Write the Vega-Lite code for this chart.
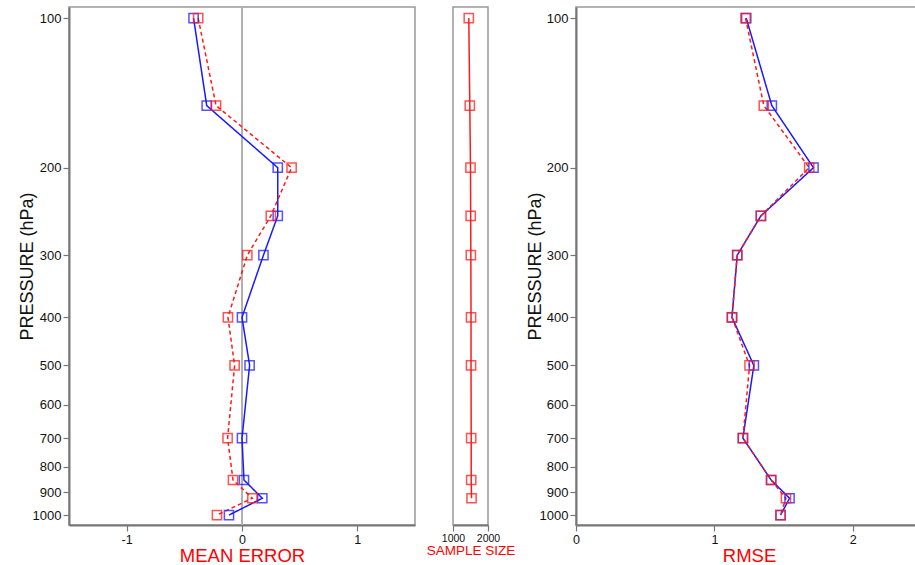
{
  "$schema": "https://vega.github.io/schema/vega-lite/v6.json",
  "background": "white",
  "padding": {"left": 17, "top": 5, "right": 0, "bottom": 0},
  "spacing": 9,
  "datasets": {
    "stats": [
      {"p": 100, "run": "blue", "me": -0.42, "rmse": 1.23},
      {"p": 150, "run": "blue", "me": -0.306, "rmse": 1.415},
      {"p": 200, "run": "blue", "me": 0.31, "rmse": 1.716},
      {"p": 250, "run": "blue", "me": 0.31, "rmse": 1.336},
      {"p": 300, "run": "blue", "me": 0.186, "rmse": 1.165},
      {"p": 400, "run": "blue", "me": 0.0, "rmse": 1.127},
      {"p": 500, "run": "blue", "me": 0.066, "rmse": 1.285},
      {"p": 700, "run": "blue", "me": 0.0, "rmse": 1.206},
      {"p": 850, "run": "blue", "me": 0.017, "rmse": 1.41},
      {"p": 925, "run": "blue", "me": 0.176, "rmse": 1.543},
      {"p": 1000, "run": "blue", "me": -0.113, "rmse": 1.478},
      {"p": 100, "run": "red", "me": -0.38, "rmse": 1.225},
      {"p": 150, "run": "red", "me": -0.225, "rmse": 1.357},
      {"p": 200, "run": "red", "me": 0.43, "rmse": 1.685},
      {"p": 250, "run": "red", "me": 0.25, "rmse": 1.336},
      {"p": 300, "run": "red", "me": 0.046, "rmse": 1.165},
      {"p": 400, "run": "red", "me": -0.122, "rmse": 1.127},
      {"p": 500, "run": "red", "me": -0.064, "rmse": 1.254},
      {"p": 700, "run": "red", "me": -0.125, "rmse": 1.206},
      {"p": 850, "run": "red", "me": -0.078, "rmse": 1.41},
      {"p": 925, "run": "red", "me": 0.09, "rmse": 1.517},
      {"p": 1000, "run": "red", "me": -0.217, "rmse": 1.478}
    ],
    "samples": [
      {"p": 100, "n": 1451},
      {"p": 150, "n": 1480},
      {"p": 200, "n": 1500},
      {"p": 250, "n": 1505},
      {"p": 300, "n": 1510},
      {"p": 400, "n": 1515},
      {"p": 500, "n": 1515},
      {"p": 700, "n": 1520},
      {"p": 850, "n": 1520},
      {"p": 925, "n": 1530}
    ],
    "zero": [{"x": 0}]
  },
  "config": {
    "font": "Liberation Sans",
    "view": {"stroke": "#999999", "strokeWidth": 1.5},
    "axis": {
      "labelFont": "Liberation Sans",
      "labelFontSize": 13,
      "labelColor": "#111111",
      "labelFlush": false,
      "labelOverlap": false,
      "labelPadding": 2,
      "tickColor": "#777777",
      "tickSize": 6,
      "tickWidth": 1.2,
      "domainColor": "#777777",
      "domainWidth": 2,
      "grid": false,
      "titleFont": "Liberation Sans",
      "titleFontWeight": "normal",
      "titleFontSize": 18
    }
  },
  "hconcat": [
    {
      "width": 346,
      "height": 518,
      "layer": [
        {
          "data": {"name": "zero"},
          "mark": {"type": "rule", "color": "#b0b0b0", "strokeWidth": 2},
          "encoding": {
            "x": {"field": "x", "type": "quantitative", "scale": {"domain": [-1.5, 1.5], "nice": false, "zero": false}}
          }
        },
        {
          "data": {"name": "stats"},
          "mark": {"type": "line", "strokeWidth": 1.5},
          "encoding": {
            "x": {"field": "me", "type": "quantitative", "scale": {"domain": [-1.5, 1.5], "nice": false, "zero": false},
                  "axis": {"values": [-1, 0, 1], "labelExpr": "'' + datum.value", "labelFontSize": 12.5, "title": "MEAN ERROR", "titleColor": "#ff0000", "titleFontSize": 18.5, "titlePadding": 1}},
            "y": {"field": "p", "type": "quantitative", "scale": {"type": "log", "domain": [95, 1047], "reverse": true, "nice": false},
                  "axis": {"values": [100, 200, 300, 400, 500, 600, 700, 800, 900, 1000], "format": "d", "title": "PRESSURE (hPa)", "titlePadding": -4, "titleColor": "#111111"}},
            "color": {"field": "run", "type": "nominal", "scale": {"domain": ["blue", "red"], "range": ["#1a1aff", "#ff1a1a"]}, "legend": null},
            "strokeDash": {"field": "run", "type": "nominal", "scale": {"domain": ["blue", "red"], "range": [[1, 0], [4, 3]]}, "legend": null},
            "order": {"field": "p", "type": "quantitative"}
          }
        },
        {
          "data": {"name": "stats"},
          "mark": {"type": "point", "shape": "square", "filled": false, "size": 85, "strokeWidth": 1.5, "opacity": 0.75},
          "encoding": {
            "x": {"field": "me", "type": "quantitative"},
            "y": {"field": "p", "type": "quantitative"},
            "color": {"field": "run", "type": "nominal", "legend": null}
          }
        }
      ]
    },
    {
      "width": 35,
      "height": 518,
      "data": {"name": "samples"},
      "layer": [
        {
          "mark": {"type": "line", "strokeWidth": 1.5, "color": "#ff1a1a"},
          "encoding": {
            "x": {"field": "n", "type": "quantitative", "scale": {"domain": [1000, 2000], "nice": false, "zero": false},
                  "axis": {"values": [1000, 2000], "labelExpr": "'' + datum.value", "labelFontSize": 10.5, "title": "SAMPLE SIZE", "titleColor": "#ff0000", "titleFontSize": 13.5, "titlePadding": 0}},
            "y": {"field": "p", "type": "quantitative", "scale": {"type": "log", "domain": [95, 1047], "reverse": true, "nice": false}, "axis": null},
            "order": {"field": "p", "type": "quantitative"}
          }
        },
        {
          "mark": {"type": "point", "shape": "square", "filled": false, "size": 85, "strokeWidth": 1.5, "opacity": 0.75, "color": "#ff1a1a"},
          "encoding": {
            "x": {"field": "n", "type": "quantitative"},
            "y": {"field": "p", "type": "quantitative"}
          }
        }
      ]
    },
    {
      "width": 346,
      "height": 518,
      "data": {"name": "stats"},
      "layer": [
        {
          "mark": {"type": "line", "strokeWidth": 1.5},
          "encoding": {
            "x": {"field": "rmse", "type": "quantitative", "scale": {"domain": [0, 2.5], "nice": false},
                  "axis": {"values": [0, 1, 2], "labelExpr": "'' + datum.value", "labelFontSize": 12.5, "title": "RMSE", "titleColor": "#ff0000", "titleFontSize": 18.5, "titlePadding": 1}},
            "y": {"field": "p", "type": "quantitative", "scale": {"type": "log", "domain": [95, 1047], "reverse": true, "nice": false},
                  "axis": {"values": [100, 200, 300, 400, 500, 600, 700, 800, 900, 1000], "format": "d", "title": "PRESSURE (hPa)", "titlePadding": -5, "titleColor": "#111111"}},
            "color": {"field": "run", "type": "nominal", "scale": {"domain": ["blue", "red"], "range": ["#1a1aff", "#ff1a1a"]}, "legend": null},
            "strokeDash": {"field": "run", "type": "nominal", "scale": {"domain": ["blue", "red"], "range": [[1, 0], [4, 3]]}, "legend": null},
            "order": {"field": "p", "type": "quantitative"}
          }
        },
        {
          "mark": {"type": "point", "shape": "square", "filled": false, "size": 85, "strokeWidth": 1.5, "opacity": 0.75},
          "encoding": {
            "x": {"field": "rmse", "type": "quantitative"},
            "y": {"field": "p", "type": "quantitative"},
            "color": {"field": "run", "type": "nominal", "legend": null}
          }
        }
      ]
    }
  ]
}
